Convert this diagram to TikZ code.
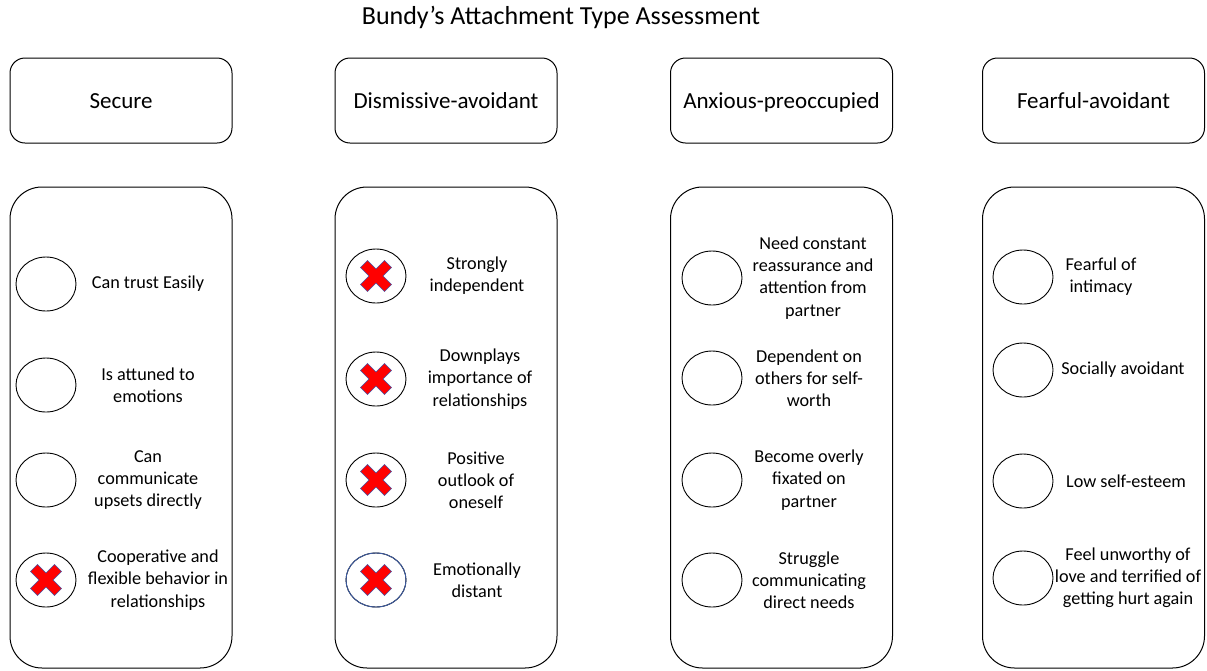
\documentclass[tikz,border=0pt]{standalone}
\usepackage{fontspec}
\setmainfont{Carlito}
\usepackage{tikz}
\usetikzlibrary{calc}
\usetikzlibrary{positioning}
\definecolor{xblue}{RGB}{70,90,170}
\definecolor{ringblue}{RGB}{60,90,160}
\tikzset{
	% header boxes and trait panels
	type box/.style={draw,rounded corners=15,minimum width=222,minimum height=85,line width=1pt,text height=18.4pt,text depth=3.4pt,font=\fontsize{23}{27}\selectfont},
	trait panel/.style={draw,rounded corners=32,minimum width=222,minimum height=481,line width=1pt},
	% tick circle and its text
	tick circle/.style={ellipse,draw,minimum width=60,minimum height=54,inner sep=0,line width=0.9pt},
	trait text/.style={align=center,font=\fontsize{18.2}{22.2}\selectfont},
	cross mark/.style={fill=red,draw=xblue,line width=0.5pt,line join=miter}
}
\usetikzlibrary{shapes.geometric}
\begin{document}
\begin{tikzpicture}[x=1pt,y=-1pt]
	% macro for a circle with its trait text
	\newcommand{\trait}[5]{\node[tick circle] (#1) at (#2,#3) {};
		\node[trait text] (#1-t) at (#4,#3) {#5};}
	% macro for the red cross inside a circle
	\newcommand{\xmark}[1]{\draw[cross mark,shift={(#1)},rotate=45] (-5,-17) -- (5,-17) -- (5,-5) -- (17,-5) -- (17,5) -- (5,5) -- (5,17) -- (-5,17) -- (-5,5) -- (-17,5) -- (-17,-5) -- (-5,-5) -- cycle;}
	\useasboundingbox (0,0) rectangle (1207,670);
	
	\node (title) at (561,17) {\fontsize{26}{30}\selectfont Bundy’s Attachment Type Assessment};
	
	\node[type box] (secure) at (121,100.5) {Secure};
	\node[type box] (dismissive) at (446,100.5) {Dismissive-avoidant};
	\node[type box] (anxious) at (781.5,100.5) {Anxious-preoccupied};
	\node[type box] (fearful) at (1093.5,100.5) {Fearful-avoidant};
	
	\node[trait panel] (secure-p) at (121,427.5) {};
	\node[trait panel] (dismissive-p) at (446,427.5) {};
	\node[trait panel] (anxious-p) at (781.5,427.5) {};
	\node[trait panel] (fearful-p) at (1093.5,427.5) {};
	
	% Secure
	\trait{s1}{46}{284}{148}{Can trust Easily}
	\trait{s2}{46}{385}{148}{Is attuned to\\emotions}
	\trait{s3}{46}{480}{148}{Can\\communicate\\upsets directly}
	\trait{s4}{46}{580}{158}{Cooperative and\\flexible behavior in\\relationships}
	
	% Dismissive-avoidant
	\trait{d1}{376}{276}{477}{Strongly\\independent}
	\trait{d2}{376}{379}{480}{Downplays\\importance of\\relationships}
	\trait{d3}{376}{480}{476}{Positive\\outlook of\\oneself}
	\trait{d4}{376}{580}{477}{Emotionally\\distant}
	\draw[ringblue,line width=0.9pt] (d4.center) ellipse (30 and 27);
	
	% Anxious-preoccupied
	\trait{a1}{712}{278}{813}{Need constant\\reassurance and\\attention from\\partner}
	\trait{a2}{712}{378}{809}{Dependent on\\others for self-\\worth}
	\trait{a3}{712}{480}{809}{Become overly\\fixated on\\partner}
	\trait{a4}{712}{580}{809}{Struggle\\communicating\\direct needs}
	
	% Fearful-avoidant
	\trait{f1}{1023}{277}{1101}{Fearful of\\intimacy}
	\trait{f2}{1023}{370}{1123}{Socially avoidant}
	\trait{f3}{1023}{481}{1126}{Low self-esteem}
	\trait{f4}{1023}{578}{1128}{Feel unworthy of\\love and terrified of\\getting hurt again}
	
	\xmark{s4}
	\xmark{d1}
	\xmark{d2}
	\xmark{d3}
	\xmark{d4}
\end{tikzpicture}
\end{document}
